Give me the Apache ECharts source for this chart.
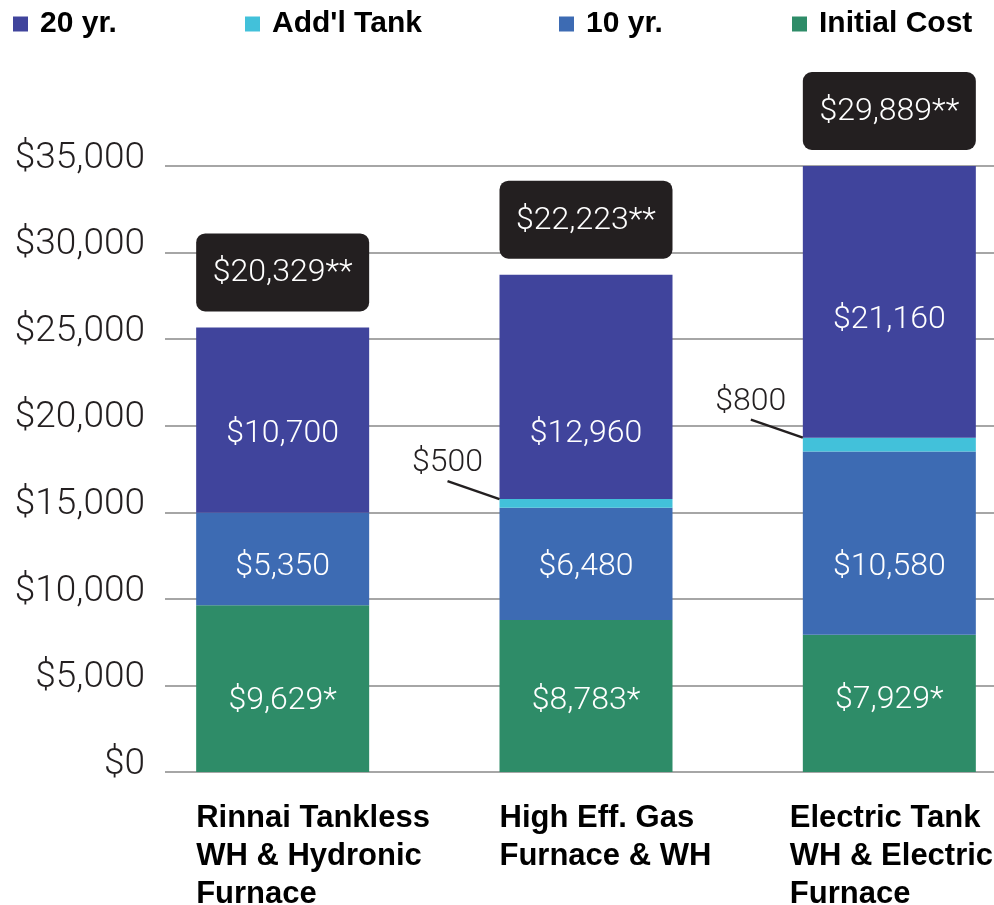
<!DOCTYPE html>
<html>
<head>
<meta charset="utf-8">
<script src="https://cdn.jsdelivr.net/npm/echarts@6/dist/echarts.min.js"></script>
<style>
  html, body { margin: 0; padding: 0; background: #ffffff; }
  #chart { width: 994px; height: 905px; }
</style>
</head>
<body>
<div id="chart"></div>
<script>
// ---------- data ----------
const categories = ['Rinnai Tankless\nWH & Hydronic\nFurnace', 'High Eff. Gas\nFurnace & WH', 'Electric Tank\nWH & Electric\nFurnace'];
const initialCost = [9629, 8783, 7929];
const tenYear = [5350, 6480, 10580];
const addlTank = [null, 500, 800];
const twentyYear = [10700, 12960, 21160];
const totalLabels = [20329, 22223, 29889];
const yMin = 0;
const yMax = 35000;
const yInterval = 5000;

// ---------- styling ----------
const COLORS = { twenty: '#40449C', tank: '#42C1DA', ten: '#3D6BB3', initial: '#2E8C68', box: '#231F20', text: '#231F20', grid: '#A6A6A6' };
const LIGHT = 'Roboto';
const BOLD = 'Liberation Sans';
const BAR_W = 173;
// vertical nudges (px) of segment labels so they sit in rows like the original
const nudge = { initial: [12, 5, -3], ten: [8, 3, 24], twenty: [14, 47, 18] };
// label box widths per category (last one widened so it stays inside the canvas)
const catLabelWidth = [BAR_W, BAR_W, 199];

const fmt = v => '$' + Number(v).toLocaleString('en-US');
const stackTop = initialCost.map((v, i) => v + tenYear[i] + (addlTank[i] || 0) + twentyYear[i]);

function items(arr, key) {
  return arr.map((v, i) => ({ value: v, label: { offset: [0, nudge[key][i]] } }));
}

const segLabel = (suffix) => ({
  show: true, position: 'inside', color: '#ffffff',
  fontFamily: LIGHT, fontWeight: 300, fontSize: 32,
  formatter: p => fmt(p.value) + suffix
});

const chart = echarts.init(document.getElementById('chart'), null, { renderer: 'canvas' });

const legendBase = {
  top: 9, padding: 0, itemWidth: 15, itemHeight: 15, icon: 'rect', selectedMode: false,
  textStyle: { fontFamily: BOLD, fontWeight: 'bold', fontSize: 30, color: '#000', padding: [0, 0, 0, 7] }
};

const option = {
  animation: false,
  backgroundColor: '#ffffff',
  legend: [
    Object.assign({}, legendBase, { left: 13, data: ['20 yr.'] }),
    Object.assign({}, legendBase, { left: 245, data: ["Add'l Tank"] }),
    Object.assign({}, legendBase, { left: 559, data: ['10 yr.'] }),
    Object.assign({}, legendBase, { left: 792, data: ['Initial Cost'] })
  ],
  grid: [
    { left: 165, right: 0, top: 166, height: 606, outerBoundsMode: 'none', containLabel: false },
    { left: 131, width: 910, top: 166, height: 606, outerBoundsMode: 'none', containLabel: false }
  ],
  xAxis: [
    { type: 'category', gridIndex: 0, data: categories, show: false },
    {
      type: 'category', gridIndex: 1,
      data: categories.map((c, i) => ({ value: c, textStyle: { width: catLabelWidth[i] } })),
      axisLine: { show: false }, axisTick: { show: false }, splitLine: { show: false },
      axisLabel: {
        interval: 0, margin: 27, align: 'center', verticalAlign: 'top', width: BAR_W, overflow: 'none',
        formatter: v => v.split('\n').map(l => '{a|' + l + '}').join('\n'),
        rich: { a: { fontFamily: BOLD, fontWeight: 'bold', fontSize: 31, lineHeight: 38, color: '#000', align: 'left' } }
      }
    }
  ],
  yAxis: [
    {
      type: 'value', gridIndex: 0, min: yMin, max: yMax, interval: yInterval,
      axisLine: { show: false }, axisTick: { show: false },
      splitLine: { show: true, lineStyle: { color: COLORS.grid, width: 2 } },
      axisLabel: {
        margin: 20, color: COLORS.text, fontFamily: LIGHT, fontWeight: 300, fontSize: 37,
        verticalAlign: 'bottom', lineHeight: 15,
        formatter: v => fmt(v)
      }
    },
    { type: 'value', gridIndex: 1, min: yMin, max: yMax, interval: yInterval, show: false, splitLine: { show: false } }
  ],
  series: [
    {
      name: 'Initial Cost', type: 'bar', stack: 'cost', xAxisIndex: 1, yAxisIndex: 1, barWidth: BAR_W,
      itemStyle: { color: COLORS.initial }, label: segLabel('*'), data: items(initialCost, 'initial'), z: 3
    },
    {
      name: '10 yr.', type: 'bar', stack: 'cost', xAxisIndex: 1, yAxisIndex: 1, barWidth: BAR_W,
      itemStyle: { color: COLORS.ten }, label: segLabel(''), data: items(tenYear, 'ten'), z: 3
    },
    {
      name: "Add'l Tank", type: 'bar', stack: 'cost', xAxisIndex: 1, yAxisIndex: 1, barWidth: BAR_W,
      itemStyle: { color: COLORS.tank }, label: { show: false }, data: addlTank.map(v => v == null ? '-' : v), z: 3
    },
    {
      name: '20 yr.', type: 'bar', stack: 'cost', xAxisIndex: 1, yAxisIndex: 1, barWidth: BAR_W,
      itemStyle: { color: COLORS.twenty }, label: segLabel(''), data: items(twentyYear, 'twenty'), z: 3
    },
    {
      name: 'totals', type: 'custom', xAxisIndex: 1, yAxisIndex: 1, clip: false, z: 5,
      data: totalLabels.map((t, i) => [i, Math.min(stackTop[i], yMax), t]),
      renderItem: (params, api) => {
        const p = api.coord([api.value(0), api.value(1)]);
        const h = 78, gap = 16;
        return {
          type: 'group',
          children: [
            { type: 'rect', shape: { x: p[0] - BAR_W / 2, y: p[1] - gap - h, width: BAR_W, height: h, r: 9 }, style: { fill: COLORS.box } },
            { type: 'text', style: { x: p[0], y: p[1] - gap - h / 2 + 1, text: fmt(api.value(2)) + '**', fill: '#ffffff',
              font: '300 32px ' + LIGHT, align: 'center', verticalAlign: 'middle' } }
          ]
        };
      }
    },
    {
      name: 'tankCallouts', type: 'custom', xAxisIndex: 1, yAxisIndex: 1, clip: false, z: 5,
      data: addlTank.map((v, i) => [i, initialCost[i] + tenYear[i] + (v || 0), v]).filter(d => d[2]),
      renderItem: (params, api) => {
        const p = api.coord([api.value(0), api.value(1)]);
        const left = p[0] - BAR_W / 2;
        return {
          type: 'group',
          children: [
            { type: 'line', shape: { x1: left - 52, y1: p[1] - 18, x2: left, y2: p[1] }, style: { stroke: COLORS.box, lineWidth: 2.5 } },
            { type: 'text', style: { x: left - 52, y: p[1] - 36, text: fmt(api.value(2)), fill: COLORS.text,
              font: '300 32px ' + LIGHT, align: 'center', verticalAlign: 'middle' } }
          ]
        };
      }
    }
  ]
};

chart.setOption(option);
</script>
</body>
</html>
